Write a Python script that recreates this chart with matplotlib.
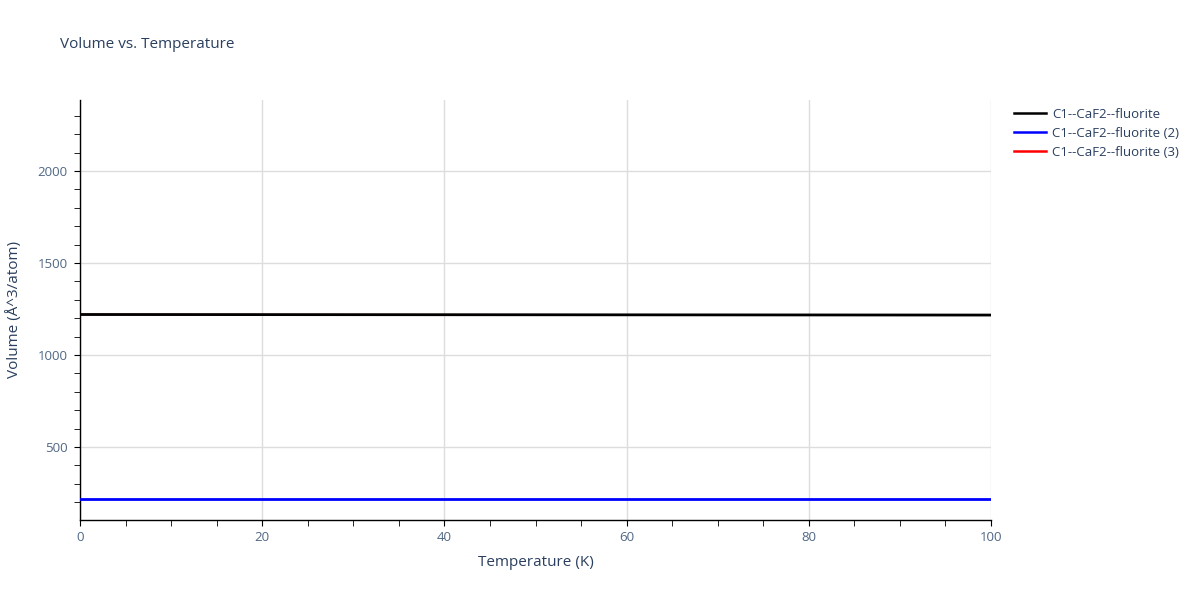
import matplotlib.pyplot as plt
from matplotlib.ticker import MultipleLocator

plt.rcParams['font.family'] = ['Open Sans', 'DejaVu Sans']

temperature = [0, 10, 20, 30, 40, 50, 60, 70, 80, 90, 100]
volume_1 = [1220, 1219.7, 1219.4, 1219.1, 1218.8, 1218.5, 1218.2, 1217.9, 1217.6, 1217.3, 1217]
volume_2 = [219, 219, 219, 219, 219, 219, 219, 219, 219, 219, 219]
volume_3 = [1220, 1219.7, 1219.4, 1219.1, 1218.8, 1218.5, 1218.2, 1217.9, 1217.6, 1217.3, 1217]
labels = ['C1--CaF2--fluorite', 'C1--CaF2--fluorite (2)', 'C1--CaF2--fluorite (3)']

text_color = '#2a3f5f'
tick_color = '#506784'

fig = plt.figure(figsize=(12, 6), dpi=100)
ax = fig.add_axes([80 / 1200, 80 / 600, 911 / 1200, 420 / 600])

# third series sits under the first one
l3, = ax.plot(temperature, volume_3, color='red', lw=1.2, zorder=2)
l1, = ax.plot(temperature, volume_1, color='black', lw=2, zorder=3)
l2, = ax.plot(temperature, volume_2, color='blue', lw=2, zorder=3)

ax.set_xlim(0, 100)
ax.set_ylim(103, 2386)
ax.xaxis.set_major_locator(MultipleLocator(20))
ax.xaxis.set_minor_locator(MultipleLocator(5))
ax.yaxis.set_major_locator(MultipleLocator(500))
ax.yaxis.set_minor_locator(MultipleLocator(100))
ax.grid(True, which='major', color='#dddddd', lw=1, zorder=0)
ax.set_axisbelow(True)

for s in ['top', 'right']:
    ax.spines[s].set_visible(False)
for s in ['left', 'bottom']:
    ax.spines[s].set_color('black')
    ax.spines[s].set_linewidth(1)

ax.tick_params(which='both', direction='out', color='black', labelcolor=tick_color, labelsize=9.5)
ax.tick_params(which='both', length=4, pad=4)
ax.tick_params(axis='y', which='major', pad=5)

ax.set_xlabel('Temperature (K)', color=text_color, fontsize=11, labelpad=8)
ax.set_ylabel('Volume (Å^3/atom)', color=text_color, fontsize=11, labelpad=11)
fig.text(60 / 1200, 1 - 45 / 600, 'Volume vs. Temperature', color=text_color, fontsize=11, va='center')

leg = fig.legend([l1, l2, l3], labels, loc='upper left', bbox_to_anchor=(1014 / 1200, 1 - 108 / 600),
                 frameon=False, fontsize=9.5, handlelength=2.4, handletextpad=0.5, labelspacing=0.45,
                 borderaxespad=0, borderpad=0)
for h in leg.get_lines():
    h.set_linewidth(1.8)
for t in leg.get_texts():
    t.set_color(text_color)

fig.savefig('out.png', dpi=100)
